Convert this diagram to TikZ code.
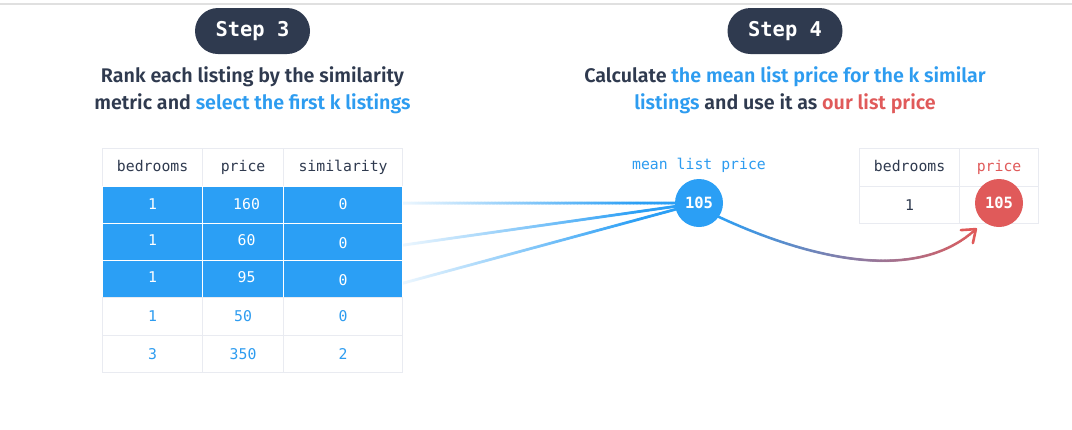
\documentclass[tikz,border=0pt]{standalone}
\usepackage{fontspec}
\setmainfont{Fira Sans}[BoldFont={Fira Sans SemiBold}]
\setmonofont{DejaVu Sans Mono}
\usetikzlibrary{decorations.markings,backgrounds}
\definecolor{hl}{HTML}{2B9FF5}
\definecolor{txtblue}{HTML}{2D9CF0}
\definecolor{redc}{HTML}{E05A5A}
\definecolor{dark}{HTML}{2F3A4F}
\definecolor{grid}{HTML}{E9EBF1}
\definecolor{topline}{HTML}{E0E0E0}
\begin{document}
\begin{tikzpicture}[x=1pt,y=-1pt,
  pill/.style={fill=dark, rounded corners=23pt, minimum width=115pt, minimum height=46pt, inner sep=0pt, text=white, font=\ttfamily\bfseries\fontsize{20.4}{22}\selectfont},
  head/.style={align=center, inner sep=0pt, text=dark, font=\bfseries\fontsize{19.7}{27}\selectfont},
  cell/.style={draw=grid, line width=1.2pt, anchor=north west, inner sep=0pt, minimum height=37pt, text height=10pt, text depth=0pt, text=txtblue, font=\ttfamily\fontsize{14.8}{16}\selectfont},
  headcell/.style={cell, minimum height=38pt, text=dark, text depth=3pt},
  hlcell/.style={cell, fill=hl, draw=white, text=white},
  wa/.style={minimum width=100pt}, wb/.style={minimum width=81pt}, wc/.style={minimum width=119pt},
  wd/.style={minimum width=100pt}, we/.style={minimum width=79pt},
  dot/.style={circle, minimum size=48pt, inner sep=0pt, text=white, font=\ttfamily\bfseries\fontsize{15.5}{16}\selectfont},
  monolabel/.style={inner sep=0pt, font=\ttfamily\fontsize{14.8}{16}\selectfont},
  fadeline/.style={decorate, decoration={markings, mark=between positions 0 and 1 step 0.7pt with {%
    \pgfmathsetmacro\fr{\pgfkeysvalueof{/pgf/decoration/mark info/distance from start}/\pgfdecoratedpathlength}%
    \pgfmathsetmacro\pc{min(100,8+115*\fr)}%
    \fill[hl!\pc!white] (0,0) circle (1.5pt);}}},
  gradline/.style={decorate, decoration={markings, mark=between positions 0 and 1 step 0.7pt with {%
    \pgfmathsetmacro\fr{\pgfkeysvalueof{/pgf/decoration/mark info/distance from start}/\pgfdecoratedpathlength}%
    \pgfmathsetmacro\pc{min(100,100*\fr)}%
    \fill[redc!\pc!hl] (0,0) circle (1.4pt);}}}
]
\useasboundingbox (0,0) rectangle (1072,429);
\draw[topline, line width=2pt] (0,4) -- (1072,4);

% Step pills
\node[pill] (s3) at (252.5,31) {Step 3};
\node[pill] (s4) at (785,31) {Step 4};

% Headings
\node[head] (t3) at (252.5,90.5) {Rank each listing by the similarity\\metric and \textcolor{txtblue}{select the first k listings}};
\node[head] (t4) at (785,90.5) {Calculate \textcolor{txtblue}{the mean list price for the k similar}\\\textcolor{txtblue}{listings} and use it as \textcolor{redc}{our list price}};

% Left table
\node[headcell, wa] (h1) at (102,148) {bedrooms};
\node[headcell, wb] (h2) at (202,148) {price};
\node[headcell, wc] (h3) at (283,148) {similarity};

\node[hlcell, wa] (a1) at (102,186) {\raisebox{1pt}{1}};
\node[hlcell, wb] (a2) at (202,186) {\hspace{7pt}\raisebox{1pt}{160}};
\node[hlcell, wc] (a3) at (283,186) {\raisebox{1pt}{0}};

\node[hlcell, wa] (b1) at (102,223) {\raisebox{2pt}{1}};
\node[hlcell, wb] (b2) at (202,223) {\hspace{7pt}\raisebox{2pt}{60}};
\node[hlcell, wc] (b3) at (283,223) {\raisebox{-1pt}{0}};

\node[hlcell, wa] (c1) at (102,260) {\raisebox{2pt}{1}};
\node[hlcell, wb] (c2) at (202,260) {\hspace{7pt}\raisebox{2pt}{95}};
\node[hlcell, wc] (c3) at (283,260) {\raisebox{-1pt}{0}};

\node[cell, wa, minimum height=38pt] (d1) at (102,297) {1};
\node[cell, wb, minimum height=38pt] (d2) at (202,297) {50};
\node[cell, wc, minimum height=38pt] (d3) at (283,297) {0};

\node[cell, wa] (e1) at (102,335) {3};
\node[cell, wb] (e2) at (202,335) {350};
\node[cell, wc] (e3) at (283,335) {2};

% Mean
\node[monolabel, text=txtblue] (ml) at (699,165) {mean list price};
\node[dot, fill=hl] (mean) at (699,203) {105};

\begin{scope}[on background layer]
  \fill[white] (0,0) rectangle (1072,429);
  \path[fadeline] ([yshift=2pt]a3.east) -- (mean.center);
  \path[fadeline] ([yshift=-3pt]b3.east) -- (mean.center);
  \path[fadeline] ([yshift=-4pt]c3.east) -- (mean.center);
\end{scope}

% Right table
\node[headcell, wd] (rh1) at (859,148) {bedrooms};
\node[headcell, we, text=redc] (rh2) at (959,148) {price};
\node[cell, wd, text=dark] (rr1) at (859,186) {1};
\node[cell, we] (rr2) at (959,186) {};
\node[dot, fill=redc] (pred) at (999,203) {105};

% Curved arrow
\coordinate (tip) at ([shift={(-6,9)}]pred.-135);
\path[gradline] (mean.-35) .. controls (790,250) and (910,290) .. (tip);
\draw[redc, line width=2.6pt, line cap=round, line join=round]
  ([shift={(-15,1)}]tip) -- (tip) -- ([shift={(-3,14)}]tip);
\end{tikzpicture}
\end{document}
